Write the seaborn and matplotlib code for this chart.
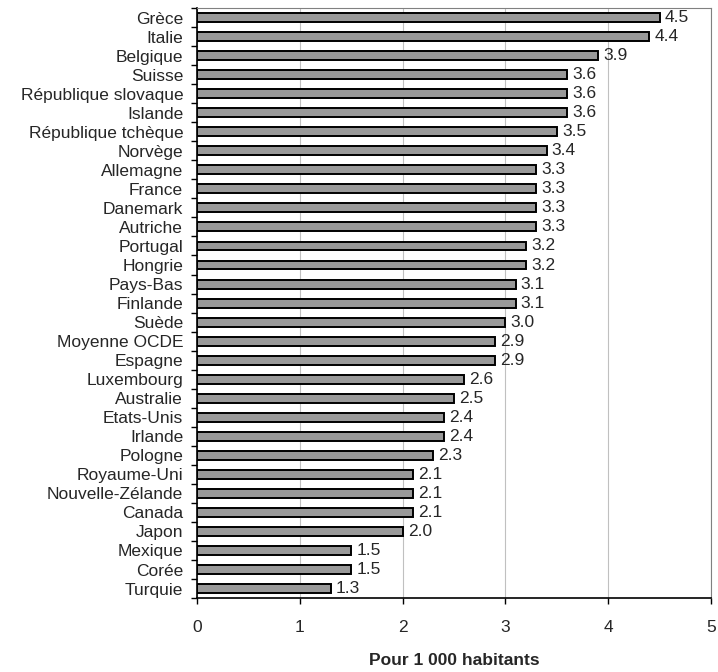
import matplotlib
matplotlib.use("Agg")
import matplotlib.pyplot as plt
import seaborn as sns
import pandas as pd
import numpy as np

pays = ["Grèce", "Italie", "Belgique", "Suisse", "République slovaque", "Islande",
        "République tchèque", "Norvège", "Allemagne", "France", "Danemark", "Autriche",
        "Portugal", "Hongrie", "Pays-Bas", "Finlande", "Suède", "Moyenne OCDE", "Espagne",
        "Luxembourg", "Australie", "Etats-Unis", "Irlande", "Pologne", "Royaume-Uni",
        "Nouvelle-Zélande", "Canada", "Japon", "Mexique", "Corée", "Turquie"]
valeurs = [4.5, 4.4, 3.9, 3.6, 3.6, 3.6, 3.5, 3.4, 3.3, 3.3, 3.3, 3.3, 3.2, 3.2, 3.1, 3.1,
           3.0, 2.9, 2.9, 2.6, 2.5, 2.4, 2.4, 2.3, 2.1, 2.1, 2.1, 2.0, 1.5, 1.5, 1.3]
x_ticks = [0, 1, 2, 3, 4, 5]

sns.set_style("white")
plt.rcParams["font.family"] = ["Liberation Sans", "DejaVu Sans"]

FS = 12.5

df = pd.DataFrame({"pays": pays, "valeur": valeurs})

fig = plt.figure(figsize=(7.18, 6.72), dpi=100)
ax = fig.add_axes([0.2744, 0.110, 0.7158, 0.878])

sns.barplot(data=df, x="valeur", y="pays", orient="h", color="#999999",
            edgecolor="black", linewidth=1.4, width=0.47, saturation=1, ax=ax)

for i, v in enumerate(valeurs):
    ax.text(v + 0.05, i, f"{v:.1f}", va="center", ha="left", fontsize=FS)

ax.set_xlim(0, 5)
ax.set_ylim(len(pays) - 0.5, -0.5)
ax.set_xticks(x_ticks)
ax.set_xticklabels([str(t) for t in x_ticks], fontsize=FS)
ax.tick_params(axis="x", pad=12, length=4, width=1, direction="out", bottom=True, color="black")
ax.set_yticks(range(len(pays)))
ax.set_yticklabels(pays, fontsize=FS)
ax.tick_params(axis="y", which="major", length=0, pad=10)
ax.set_yticks(np.arange(-0.5, len(pays), 1.0), minor=True)
ax.tick_params(axis="y", which="minor", length=4, width=1, direction="out", left=True, color="black")

ax.xaxis.grid(True, color="#c0c0c0", linewidth=0.8)
ax.set_axisbelow(True)
ax.set_xlabel("Pour 1 000 habitants", fontsize=FS, fontweight="bold", labelpad=13)
ax.set_ylabel("")

for side in ["left", "bottom"]:
    ax.spines[side].set_color("black")
    ax.spines[side].set_linewidth(1.2)
for side in ["top", "right"]:
    ax.spines[side].set_color("#808080")
    ax.spines[side].set_linewidth(0.8)

fig.savefig("out.png", dpi=100)
